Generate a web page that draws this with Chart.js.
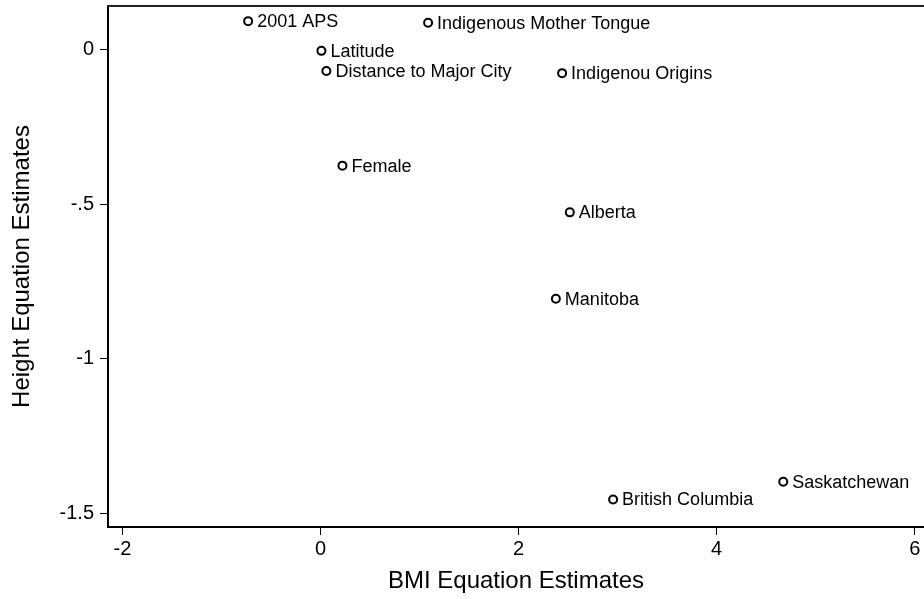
<!DOCTYPE html>
<html>
<head>
<meta charset="utf-8">
<script src="https://cdn.jsdelivr.net/npm/chart.js@4/dist/chart.umd.min.js"></script>
<style>
  html, body { margin: 0; padding: 0; background: #fff; }
  #wrap { width: 924px; height: 599px; position: relative; }
</style>
</head>
<body>
<div id="wrap"><canvas id="chart"></canvas></div>
<script>
const pointNames = ['2001 APS', 'Indigenous Mother Tongue', 'Latitude', 'Distance to Major City',
    'Indigenou Origins', 'Female', 'Alberta', 'Manitoba', 'British Columbia', 'Saskatchewan'];
const bmiEstimates = [-0.73, 1.087, 0.01, 0.06, 2.44, 0.222, 2.518, 2.377, 2.955, 4.673];
const heightEstimates = [0.091, 0.086, -0.005, -0.07, -0.077, -0.376, -0.527, -0.806, -1.455, -1.398];

const xTicks = [-2, 0, 2, 4, 6];
const yTicks = [0, -0.5, -1, -1.5];
const yTickLabels = ['0', '-.5', '-1', '-1.5'];

const fontFamily = "'Liberation Sans', Arial, Helvetica, sans-serif";

// the plot runs right up to the edge of the picture, so drop the
// space chart.js keeps for half of the last tick label
const fullWidth = {
    id: 'fullWidth',
    afterLayout(chart) {
        const xs = chart.scales.x;
        chart.chartArea.right = chart.width;
        chart.chartArea.width = chart.chartArea.right - chart.chartArea.left;
        xs.right = chart.width;
        xs.width = xs.right - xs.left;
        xs.configure();
    }
};

const pointLabels = {
    id: 'pointLabels',
    afterDatasetsDraw(chart) {
        const ctx = chart.ctx;
        const meta = chart.getDatasetMeta(0);
        ctx.save();
        ctx.font = '18px ' + fontFamily;
        ctx.fillStyle = '#000';
        ctx.textAlign = 'left';
        ctx.textBaseline = 'middle';
        meta.data.forEach((pt, i) => {
            ctx.fillText(pointNames[i], pt.x + 9, pt.y + 1);
        });
        ctx.restore();
    }
};

const topBorder = {
    id: 'topBorder',
    afterDraw(chart) {
        const ctx = chart.ctx;
        const area = chart.chartArea;
        ctx.save();
        ctx.strokeStyle = '#222';
        ctx.lineWidth = 2;
        ctx.beginPath();
        ctx.moveTo(area.left - 1, area.top);
        ctx.lineTo(chart.width, area.top);
        ctx.stroke();
        ctx.restore();
    }
};

new Chart(document.getElementById('chart'), {
    type: 'scatter',
    data: {
        datasets: [{
            data: bmiEstimates.map((x, i) => ({ x: x, y: heightEstimates[i] })),
            pointStyle: 'circle',
            pointRadius: 4,
            pointBorderWidth: 2,
            pointBorderColor: '#000',
            pointBackgroundColor: 'rgba(0,0,0,0)'
        }]
    },
    options: {
        responsive: true,
        maintainAspectRatio: false,
        animation: false,
        layout: { padding: { top: 5, right: 0, left: 0, bottom: 0 } },
        plugins: {
            legend: { display: false },
            tooltip: { enabled: false }
        },
        scales: {
            x: {
                type: 'linear',
                min: -2.145,
                max: 6.094,
                afterBuildTicks: scale => { scale.ticks = xTicks.map(v => ({ value: v })); },
                afterFit: scale => {
                    scale.height = 72;
                    scale.paddingRight = 0;
                    scale.paddingLeft = 0;
                },
                ticks: {
                    color: '#000',
                    font: { family: fontFamily, size: 20 },
                    padding: 2,
                    maxRotation: 0,
                    callback: v => String(v)
                },
                grid: {
                    drawOnChartArea: false,
                    drawTicks: true,
                    tickLength: 8,
                    tickColor: '#000',
                    tickWidth: 1
                },
                border: { display: true, color: '#000', width: 2 },
                title: {
                    display: true,
                    text: 'BMI Equation Estimates',
                    color: '#000',
                    font: { family: fontFamily, size: 24 },
                    padding: { top: 0, bottom: 3 }
                }
            },
            y: {
                type: 'linear',
                min: -1.544,
                max: 0.14,
                afterBuildTicks: scale => { scale.ticks = yTicks.map(v => ({ value: v })); },
                afterFit: scale => {
                    scale.width = 108;
                    scale.paddingTop = 0;
                    scale.paddingBottom = 0;
                },
                ticks: {
                    color: '#000',
                    font: { family: fontFamily, size: 20 },
                    padding: 6,
                    callback: v => yTickLabels[yTicks.indexOf(v)]
                },
                grid: {
                    drawOnChartArea: false,
                    drawTicks: true,
                    tickLength: 8,
                    tickColor: '#000',
                    tickWidth: 1
                },
                border: { display: true, color: '#000', width: 2 },
                title: {
                    display: true,
                    text: 'Height Equation Estimates',
                    color: '#000',
                    font: { family: fontFamily, size: 24 },
                    padding: { top: 8, bottom: 0 }
                }
            }
        }
    },
    plugins: [fullWidth, pointLabels, topBorder]
});
</script>
</body>
</html>
